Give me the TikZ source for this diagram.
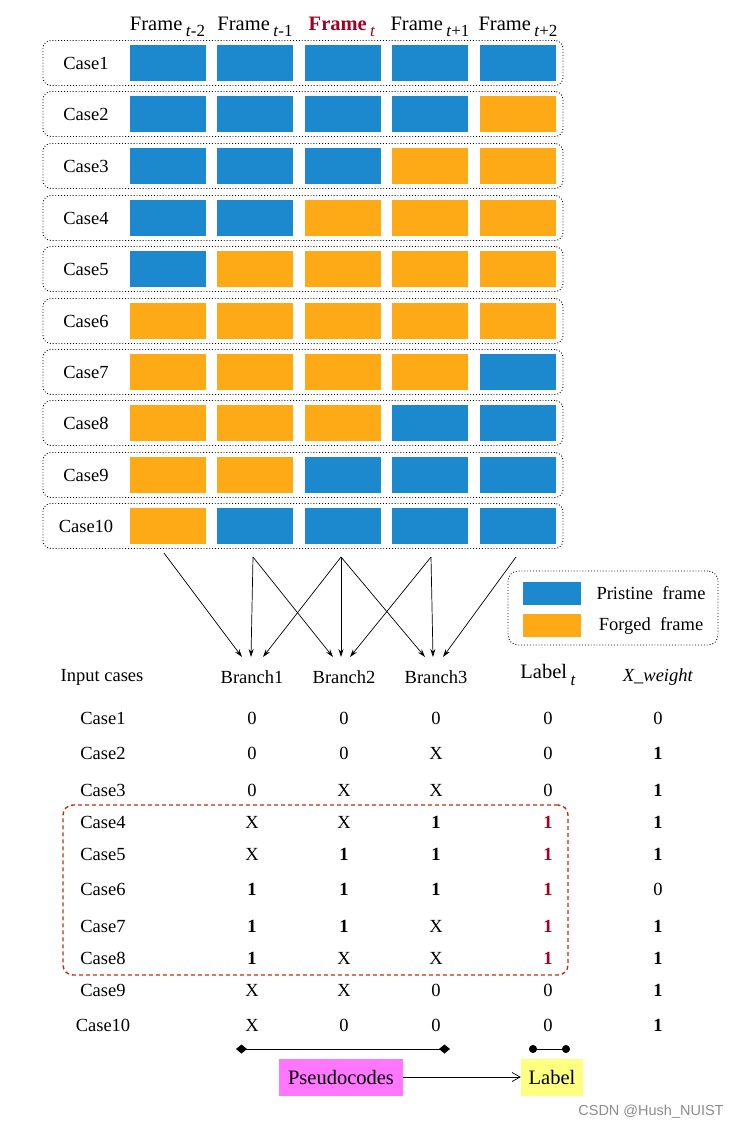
\documentclass[tikz,border=0pt]{standalone}
\usepackage{fontspec}
\setmainfont{Liberation Serif}
\newfontfamily\wmfont{Liberation Sans}
\usetikzlibrary{arrows.meta}
\definecolor{pblue}{RGB}{28,136,206}
\definecolor{forange}{RGB}{253,170,22}
\definecolor{dred}{RGB}{166,0,33}
\definecolor{boxred}{RGB}{190,45,20}
\definecolor{pmag}{RGB}{255,119,255}
\definecolor{lyel}{RGB}{255,255,128}
\newcommand\fsub[1]{\raisebox{-0.33em}{\fontsize{17}{17}\selectfont #1}}
\begin{document}
\begin{tikzpicture}[x=1pt,y=-1pt,
  every node/.style={font=\fontsize{18.5}{21}\selectfont, inner sep=0pt},
  hdr/.style={anchor=base, font=\fontsize{20.5}{23}\selectfont},
  big/.style={font=\fontsize{20.5}{23}\selectfont},
  casebox/.style={draw, dotted, line width=0.9pt, rounded corners=8pt, minimum width=520pt, minimum height=45pt},
  fr/.style={minimum width=76pt, minimum height=36pt},
  arr/.style={-{Stealth[length=8pt,width=5pt]}, line width=0.7pt}
]
\useasboundingbox (0,0) rectangle (739,1127);

% header
\node[hdr] (h1) at (167.5,30) {Frame\,\fsub{\textit{t}-2}};
\node[hdr] (h2) at (255,30) {Frame\,\fsub{\textit{t}-1}};
\node[hdr, font=\fontsize{20.5}{23}\selectfont\bfseries, text=dred] (h3) at (342,30) {Frame\,\fsub{\textit{\mdseries t}}};
\node[hdr] (h4) at (430,30) {Frame\,\fsub{\textit{t}+1}};
\node[hdr] (h5) at (518,30) {Frame\,\fsub{\textit{t}+2}};

% case rows
\foreach \i/\y/\pat in {
  1/63/{pblue,pblue,pblue,pblue,pblue},
  2/114/{pblue,pblue,pblue,pblue,forange},
  3/166/{pblue,pblue,pblue,forange,forange},
  4/218/{pblue,pblue,forange,forange,forange},
  5/269/{pblue,forange,forange,forange,forange},
  6/321/{forange,forange,forange,forange,forange},
  7/372/{forange,forange,forange,forange,pblue},
  8/423/{forange,forange,forange,pblue,pblue},
  9/475/{forange,forange,pblue,pblue,pblue},
  10/526/{forange,pblue,pblue,pblue,pblue}} {
  \node[casebox] (row\i) at (303,\y) {};
  \node (cl\i) at (86,\y) {Case\i};
  \foreach \s [count=\j] in \pat {
    \node[fr, fill=\s] (f\i-\j) at ({167.5+87.5*(\j-1)},\y) {};
  }
}

% arrows
\coordinate (s1) at (164,553);
\coordinate (s2) at (253,557);
\coordinate (s3) at (341,557);
\coordinate (s4) at (431,557);
\coordinate (s5) at (516,557);
\coordinate (e11) at (242,657);
\coordinate (e12) at (251,657);
\coordinate (e13) at (263,657);
\coordinate (e21) at (333,657);
\coordinate (e22) at (341,657);
\coordinate (e23) at (350,657);
\coordinate (e31) at (425,657);
\coordinate (e32) at (433,657);
\coordinate (e33) at (443,657);
\draw[arr] (s1) -- (e11);
\draw[arr] (s2) -- (e12);
\draw[arr] (s2) -- (e21);
\draw[arr] (s3) -- (e13);
\draw[arr] (s3) -- (e22);
\draw[arr] (s3) -- (e31);
\draw[arr] (s4) -- (e23);
\draw[arr] (s4) -- (e32);
\draw[arr] (s5) -- (e33);

% legend
\node[draw, dotted, line width=0.9pt, rounded corners=10pt, minimum width=210pt, minimum height=74pt] (leg) at (613,608) {};
\node[fill=pblue, minimum width=58pt, minimum height=23pt] (lp) at (552,593.5) {};
\node[fill=forange, minimum width=58pt, minimum height=23pt] (lf) at (552,625.5) {};
\node (lpt) at (651,593) {Pristine\ \ frame};
\node (lft) at (651,626) {Forged\ \ frame};

% table header
\node (tin) at (102,677) {Input cases};
\node (tb1) at (252,677) {Branch1};
\node (tb2) at (344,677) {Branch2};
\node (tb3) at (436,677) {Branch3};
\node[big] (tlab) at (548,675) {Label\,\fsub{\textit{t}}};
\node (tw) at (658,677) {\textit{X\_weight}};

% table body
\foreach \i/\y/\a/\b/\c/\d/\e in {
  1/718/{0}/{0}/{0}/{0}/{0},
  2/753/{0}/{0}/{X}/{0}/{\textbf{1}},
  3/790/{0}/{X}/{X}/{0}/{\textbf{1}},
  4/822/{X}/{X}/{\textbf{1}}/{\textbf{\textcolor{dred}{1}}}/{\textbf{1}},
  5/854/{X}/{\textbf{1}}/{\textbf{1}}/{\textbf{\textcolor{dred}{1}}}/{\textbf{1}},
  6/889/{\textbf{1}}/{\textbf{1}}/{\textbf{1}}/{\textbf{\textcolor{dred}{1}}}/{0},
  7/926/{\textbf{1}}/{\textbf{1}}/{X}/{\textbf{\textcolor{dred}{1}}}/{\textbf{1}},
  8/958/{\textbf{1}}/{X}/{X}/{\textbf{\textcolor{dred}{1}}}/{\textbf{1}},
  9/990/{X}/{X}/{0}/{0}/{\textbf{1}},
  10/1025/{X}/{0}/{0}/{0}/{\textbf{1}}} {
  \node (tc\i) at (103,\y) {Case\i};
  \node (ta\i) at (252,\y) {\a};
  \node (tb\i) at (344,\y) {\b};
  \node (tcc\i) at (436,\y) {\c};
  \node (td\i) at (548,\y) {\d};
  \node (te\i) at (658,\y) {\e};
}

% red dashed group
\node[draw=boxred, line width=1.4pt, dash pattern=on 4pt off 3pt, rounded corners=10pt, minimum width=505pt, minimum height=170pt] (grp) at (315.5,890) {};

% bottom
\coordinate (d1) at (236,1049);
\coordinate (d2) at (450,1049);
\coordinate (c1) at (529,1049);
\coordinate (c2) at (570,1049);
\draw[line width=0.9pt, {Diamond[length=11pt,width=9pt]}-{Diamond[length=11pt,width=9pt]}] (d1) -- (d2);
\draw[line width=0.9pt, {Circle[length=8pt]}-{Circle[length=8pt]}] (c1) -- (c2);
\node[big, fill=pmag, minimum width=124pt, minimum height=37pt] (pc) at (341,1077) {Pseudocodes};
\node[big, fill=lyel, minimum width=62pt, minimum height=37pt] (lb) at (552,1077) {Label};
\draw[line width=0.7pt, -{Straight Barb[length=8pt,width=9pt]}] (pc) -- (lb);

\node[font=\wmfont\fontsize{14.5}{16}\selectfont, text=black!45] (wm) at (651,1112) {CSDN @Hush\_NUIST};
\end{tikzpicture}
\end{document}
